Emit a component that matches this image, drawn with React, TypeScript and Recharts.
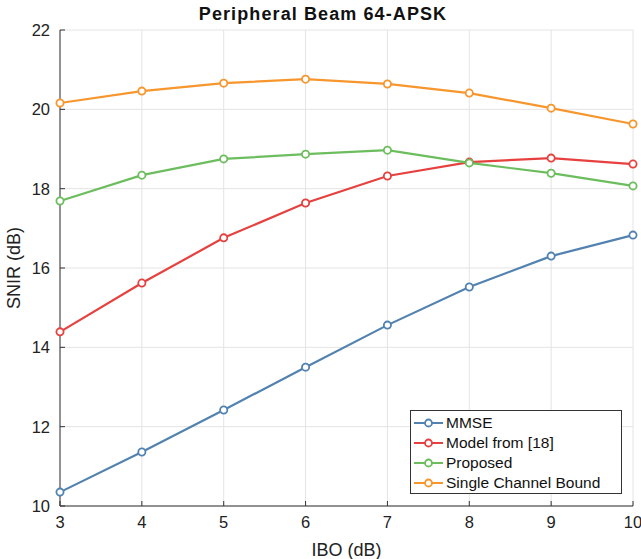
import React from 'react';
import { LineChart, Line, XAxis, YAxis, CartesianGrid } from 'recharts';

const ibo = [3, 4, 5, 6, 7, 8, 9, 10];
const mmse = [10.35, 11.36, 12.42, 13.5, 14.56, 15.52, 16.3, 16.83];
const model18 = [14.39, 15.62, 16.76, 17.64, 18.32, 18.67, 18.77, 18.62];
const proposed = [17.69, 18.34, 18.75, 18.87, 18.97, 18.65, 18.39, 18.07];
const singleBound = [20.16, 20.46, 20.66, 20.76, 20.64, 20.41, 20.03, 19.63];
const xTicks = [3, 4, 5, 6, 7, 8, 9, 10];
const yTicks = [10, 12, 14, 16, 18, 20, 22];

const series = [
  { key: 'mmse', name: 'MMSE', color: '#5282b0' },
  { key: 'model', name: 'Model from [18]', color: '#e6413f' },
  { key: 'proposed', name: 'Proposed', color: '#6cbd5d' },
  { key: 'single', name: 'Single Channel Bound', color: '#f7962d' },
];

const data = ibo.map((x, i) => ({
  x,
  mmse: mmse[i],
  model: model18[i],
  proposed: proposed[i],
  single: singleBound[i],
}));

const font = '"Liberation Sans", Arial, Helvetica, sans-serif';
const axisColor = '#333';

const LegendBox = () => (
  <div
    style={{
      position: 'absolute',
      left: 410,
      top: 410,
      width: 212,
      height: 84,
      border: '1px solid #333',
      background: '#fff',
      fontFamily: font,
      fontSize: 15.5,
      color: '#111',
      boxSizing: 'border-box',
    }}
  >
    {series.map((s, i) => (
      <div
        key={s.key}
        style={{ position: 'absolute', left: 2, top: 2 + i * 20, height: 20, display: 'flex', alignItems: 'center', whiteSpace: 'nowrap' }}
      >
        <svg width={31} height={12} style={{ marginRight: 2 }}>
          <line x1={1} y1={6} x2={30} y2={6} stroke={s.color} strokeWidth={2} />
          <circle cx={15.5} cy={6} r={3.5} fill="#fff" stroke={s.color} strokeWidth={1.8} />
        </svg>
        <span>{s.name}</span>
      </div>
    ))}
  </div>
);

const NoTick = () => <g />;

export default function App() {
  return (
    <div style={{ position: 'absolute', left: 0, top: 0, width: 641, height: 559, background: '#fff' }}>
      <LineChart width={641} height={559} data={data} margin={{ top: 30, right: 8, bottom: 0, left: 0 }}>
        <CartesianGrid stroke="#e4e4e4" strokeWidth={1} vertical horizontal xAxisId="bottom" yAxisId="left" />
        <XAxis
          xAxisId="bottom"
          dataKey="x"
          type="number"
          domain={[3, 10]}
          ticks={xTicks}
          interval={0}
          tickSize={-5}
          tickLine={{ stroke: axisColor }}
          axisLine={{ stroke: axisColor, strokeWidth: 1 }}
          tick={{ fill: '#222', fontSize: 16.5, fontFamily: font }}
          tickMargin={15}
          height={53}
          label={{ value: 'IBO (dB)', position: 'insideBottom', offset: 3, fill: '#222', fontSize: 18, fontFamily: font }}
        />
        <XAxis
          xAxisId="top"
          orientation="top"
          dataKey="x"
          type="number"
          domain={[3, 10]}
          ticks={xTicks}
          interval={0}
          tickSize={-5}
          tickLine={{ stroke: axisColor }}
          axisLine={{ stroke: axisColor, strokeWidth: 1 }}
          tick={<NoTick />}
          height={0}
        />
        <YAxis
          yAxisId="left"
          type="number"
          domain={[10, 22]}
          ticks={yTicks}
          interval={0}
          tickSize={-5}
          tickLine={{ stroke: axisColor }}
          axisLine={{ stroke: axisColor, strokeWidth: 1 }}
          tick={{ fill: '#222', fontSize: 16.5, fontFamily: font }}
          tickMargin={15}
          width={60}
          label={{ value: 'SNIR (dB)', angle: -90, position: 'insideLeft', offset: 14, fill: '#222', fontSize: 18, fontFamily: font, style: { textAnchor: 'middle' } }}
        />
        <YAxis
          yAxisId="right"
          orientation="right"
          type="number"
          domain={[10, 22]}
          ticks={yTicks}
          interval={0}
          tickSize={-5}
          tickLine={{ stroke: axisColor }}
          axisLine={{ stroke: axisColor, strokeWidth: 1 }}
          tick={<NoTick />}
          width={0}
        />
        {series.map((s) => (
          <Line
            key={s.key}
            xAxisId="bottom"
            yAxisId="left"
            dataKey={s.key}
            name={s.name}
            stroke={s.color}
            strokeWidth={2.2}
            dot={{ r: 3.6, fill: '#fff', stroke: s.color, strokeWidth: 1.8 }}
            activeDot={false}
            isAnimationActive={false}
          />
        ))}
      </LineChart>
      <div
        style={{
          position: 'absolute',
          left: 0,
          width: 646,
          top: 4,
          textAlign: 'center',
          fontFamily: font,
          fontWeight: 'bold',
          fontSize: 18,
          letterSpacing: 1.1,
          color: '#111',
        }}
      >
        Peripheral Beam 64-APSK
      </div>
      <LegendBox />
    </div>
  );
}
